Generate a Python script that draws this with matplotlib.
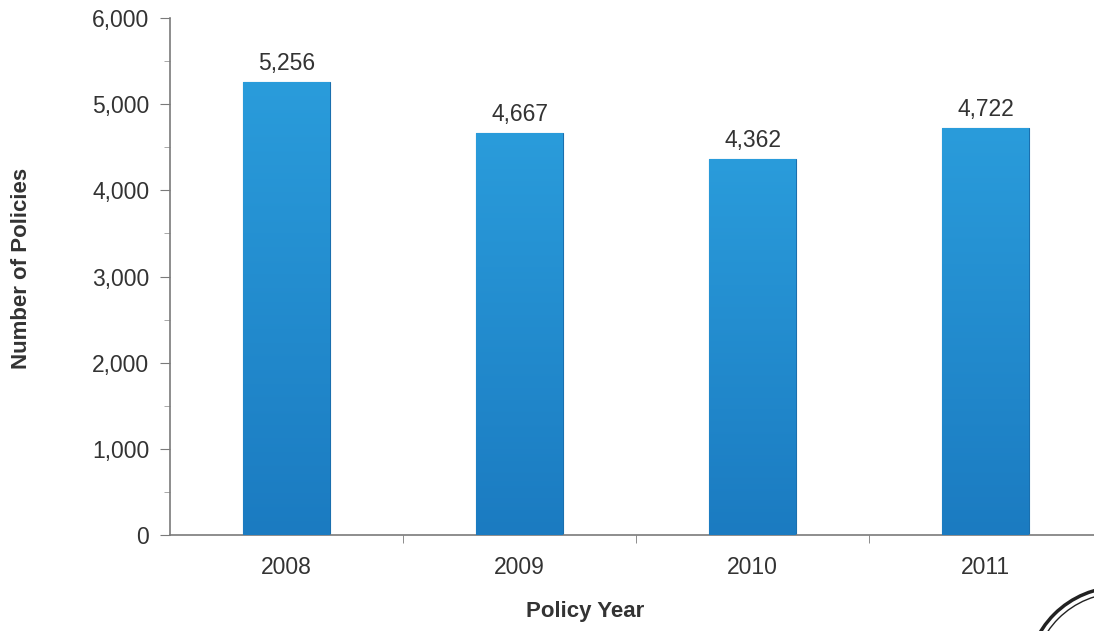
import numpy as np
import matplotlib
matplotlib.use('Agg')
import matplotlib.pyplot as plt
from matplotlib.patches import Arc
from matplotlib.colors import LinearSegmentedColormap

years=['2008','2009','2010','2011']
policies=[5256,4667,4362,4722]
yticks=[0,1000,2000,3000,4000,5000,6000]

plt.rcParams['font.family']=['Liberation Sans','DejaVu Sans']

fig=plt.figure(figsize=(10.94,6.31),dpi=100)
ax=fig.add_axes([0.1554,0.1521,0.852,0.8194])

x=np.arange(len(years))
bars=ax.bar(x,policies,width=0.37,color='#2290d2',edgecolor='#1a6fae',lw=0.8,zorder=2)

# vertical gradient inside each bar, lighter at the top
cmap=LinearSegmentedColormap.from_list('bar',['#1b7bc1','#2a9cdb'])
grad=np.linspace(0,1,256).reshape(-1,1)
for b in bars:
    x0,y0=b.get_x(),b.get_y()
    w,h=b.get_width(),b.get_height()
    im=ax.imshow(grad,cmap=cmap,origin='lower',aspect='auto',
                 extent=[x0,x0+w,y0,y0+h],zorder=3)
    im.set_clip_path(b)
    ax.text(x0+w/2,h+80,f'{int(h):,}',ha='center',va='bottom',
            fontsize=16.5,color='#333333')

ax.set_xlim(-0.5,3.5)
ax.set_ylim(0,6000)
ax.set_yticks(yticks)
ax.set_yticklabels([f'{v:,}' for v in yticks])
ax.set_yticks(np.arange(500,6000,1000),minor=True)
ax.set_xticks(x)
ax.set_xticklabels(years)
ax.set_xticks(np.arange(0.5,3.5,1),minor=True)

for s in ['top','right']:
    ax.spines[s].set_visible(False)
for s in ['left','bottom']:
    ax.spines[s].set_color('#7a7a7a')
    ax.spines[s].set_linewidth(1.2)

ax.tick_params(axis='y',which='major',length=7,color='#7a7a7a',labelsize=16.5,
               labelcolor='#333333',pad=8)
ax.tick_params(axis='y',which='minor',length=4,color='#9a9a9a')
ax.tick_params(axis='x',which='major',length=0,labelsize=16.5,labelcolor='#333333',pad=15)
ax.tick_params(axis='x',which='minor',length=6,color='#7a7a7a')

fig.text(22/1094,1-268/631,'Number of Policies',rotation=90,ha='center',va='center',
         fontsize=16,fontweight='bold',color='#333333')
fig.text(585/1094,1-612/631,'Policy Year',ha='center',va='center',
         fontsize=16,fontweight='bold',color='#333333')

# partial logo circle in the bottom-right corner
for r,lw in [(0.93,2.5),(0.87,1.0)]:
    arc=Arc((11.2,-0.49),2*r,2*r,theta1=90,theta2=180,
            transform=fig.dpi_scale_trans,color='#222222',lw=lw)
    fig.add_artist(arc)

fig.savefig('out.png',dpi=100)
